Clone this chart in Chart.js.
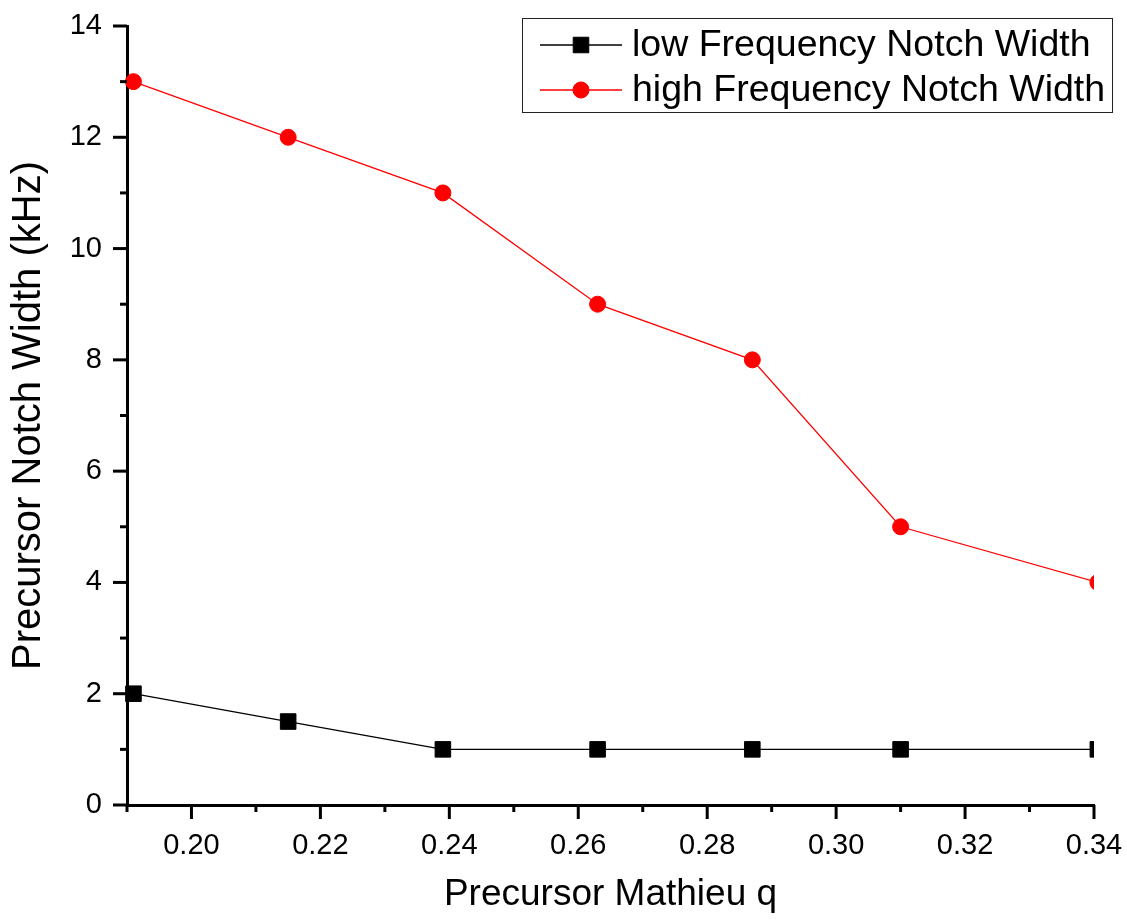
<!DOCTYPE html>
<html>
<head>
<meta charset="utf-8">
<script src="https://cdn.jsdelivr.net/npm/chart.js@4.4.1/dist/chart.umd.min.js"></script>
<style>
html,body{margin:0;padding:0;background:#fff;}
#wrap{width:1127px;height:920px;position:relative;}
</style>
</head>
<body>
<div id="wrap"><canvas id="c" width="1127" height="920"></canvas></div>
<script>
// ---- data ----
const qValues   = [0.191, 0.215, 0.239, 0.263, 0.287, 0.310, 0.3406];
const lowWidth  = [2, 1.5, 1, 1, 1, 1, 1];
const highWidth = [13, 12, 11, 9, 8, 5, 4];
const seriesNames = ['low Frequency Notch Width', 'high Frequency Notch Width'];
const xTitle = 'Precursor Mathieu q';
const yTitle = 'Precursor Notch Width (kHz)';
const xRange = [0.19, 0.34];
const yRange = [0, 14];
const xStep = 0.01;
const yStep = 1;

const FONT = "'Liberation Sans', Arial, Helvetica, sans-serif";

function toPoints(xs, ys) { return xs.map((x, i) => ({x: x, y: ys[i]})); }

function zeroPadding(scale) {
  scale.paddingTop = 0;
  scale.paddingBottom = 0;
  scale.paddingLeft = 0;
  scale.paddingRight = 0;
}

// axis tick marks (major longer, minor shorter)
const tickPlugin = {
  id: 'tickMarks',
  afterDraw(chart) {
    const ctx = chart.ctx, a = chart.chartArea;
    const xs = chart.scales.x, ys = chart.scales.y;
    ctx.save();
    ctx.strokeStyle = '#000';
    ctx.lineWidth = 3;
    ctx.lineCap = 'butt';
    xs.ticks.forEach(t => {
      const px = xs.getPixelForValue(t.value);
      const major = Math.round(t.value * 100) % 2 === 0;
      const len = major ? 14 : 7;
      ctx.beginPath();
      ctx.moveTo(px, a.bottom);
      ctx.lineTo(px, a.bottom + len);
      ctx.stroke();
    });
    ys.ticks.forEach(t => {
      const py = ys.getPixelForValue(t.value);
      const major = Math.round(t.value) % 2 === 0;
      const len = major ? 14 : 7;
      ctx.beginPath();
      ctx.moveTo(a.left, py);
      ctx.lineTo(a.left - len, py);
      ctx.stroke();
    });
    ctx.restore();
  }
};

// boxed legend in the upper right
const legendPlugin = {
  id: 'boxLegend',
  afterDraw(chart) {
    const ctx = chart.ctx;
    const box = {l: 522, t: 18, r: 1112, b: 112};
    ctx.save();
    ctx.fillStyle = '#fff';
    ctx.fillRect(box.l, box.t, box.r - box.l, box.b - box.t);
    ctx.strokeStyle = '#222';
    ctx.lineWidth = 1;
    ctx.strokeRect(box.l + 0.5, box.t + 0.5, box.r - box.l, box.b - box.t);
    chart.data.datasets.forEach((ds, i) => {
      const y = 45 + i * 45;
      ctx.strokeStyle = ds.borderColor;
      ctx.lineWidth = ds.borderWidth;
      ctx.beginPath();
      ctx.moveTo(540, y);
      ctx.lineTo(622, y);
      ctx.stroke();
      ctx.fillStyle = ds.pointBackgroundColor;
      ctx.strokeStyle = ds.pointBorderColor;
      ctx.lineWidth = 1;
      Chart.helpers.drawPoint(ctx, {pointStyle: ds.pointStyle, radius: ds.pointRadius, borderWidth: 1, rotation: 0}, 581, y);
      ctx.fillStyle = '#000';
      ctx.font = '37.5px ' + FONT;
      ctx.textBaseline = 'middle';
      ctx.textAlign = 'left';
      ctx.fillText(ds.label, 632, y + 1);
    });
    ctx.restore();
  }
};

new Chart(document.getElementById('c'), {
  type: 'line',
  data: {
    datasets: [
      {
        label: seriesNames[0],
        data: toPoints(qValues, lowWidth),
        borderColor: '#000',
        borderWidth: 1.3,
        pointStyle: 'rect',
        pointRadius: 11,
        pointBackgroundColor: '#000',
        pointBorderColor: '#000',
        pointBorderWidth: 1,
        tension: 0,
        clip: {left: 20, top: 20, right: 0, bottom: 20}
      },
      {
        label: seriesNames[1],
        data: toPoints(qValues, highWidth),
        borderColor: '#ff0000',
        borderWidth: 1.3,
        pointStyle: 'circle',
        pointRadius: 8,
        pointBackgroundColor: '#ff0000',
        pointBorderColor: '#ff0000',
        pointBorderWidth: 1,
        tension: 0,
        clip: {left: 20, top: 20, right: 0, bottom: 20}
      }
    ]
  },
  options: {
    responsive: false,
    animation: false,
    devicePixelRatio: 1,
    layout: {padding: {top: 26, right: 33, left: 0, bottom: 0}},
    plugins: {legend: {display: false}, tooltip: {enabled: false}},
    scales: {
      x: {
        type: 'linear',
        position: 'bottom',
        min: xRange[0],
        max: xRange[1],
        grid: {display: false, drawTicks: false},
        border: {display: true, color: '#000', width: 3},
        ticks: {
          stepSize: xStep,
          autoSkip: false,
          maxRotation: 0,
          padding: 24,
          color: '#000',
          font: {family: FONT, size: 29},
          callback: (v) => (Math.round(v * 100) % 2 === 0 ? v.toFixed(2) : '')
        },
        title: {
          display: true,
          text: xTitle,
          color: '#000',
          font: {family: FONT, size: 37},
          padding: {top: 0, bottom: 3}
        },
        afterFit(scale) { scale.height = 115; zeroPadding(scale); }
      },
      y: {
        type: 'linear',
        position: 'left',
        min: yRange[0],
        max: yRange[1],
        grid: {display: false, drawTicks: false},
        border: {display: true, color: '#000', width: 3},
        ticks: {
          stepSize: yStep,
          autoSkip: false,
          padding: 25,
          color: '#000',
          font: {family: FONT, size: 29},
          callback: (v) => (Math.round(v) % 2 === 0 ? String(v) : '')
        },
        title: {
          display: true,
          text: yTitle,
          color: '#000',
          font: {family: FONT, size: 40},
          padding: {top: 5, bottom: 0}
        },
        afterFit(scale) { scale.width = 127; zeroPadding(scale); }
      }
    }
  },
  plugins: [tickPlugin, legendPlugin]
});
</script>
</body>
</html>
